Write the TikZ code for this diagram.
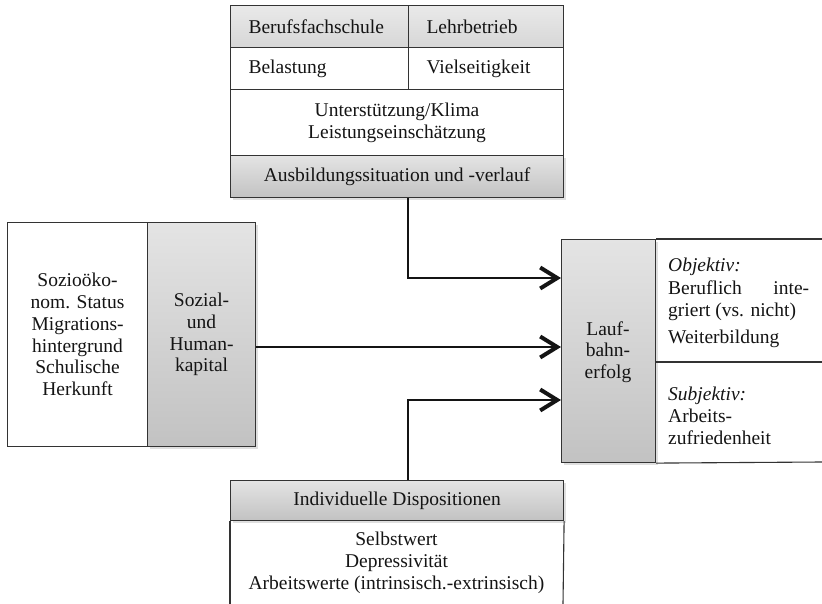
\documentclass[tikz,border=0pt]{standalone}
\usepackage{fontspec}
\setmainfont{Liberation Serif}
\usetikzlibrary{arrows.meta,shadows}
\definecolor{linec}{HTML}{333333}
\definecolor{txtc}{HTML}{141414}
\definecolor{gtop}{HTML}{E4E4E4}
\definecolor{gbot}{HTML}{C2C2C2}
\tikzset{
  cellbox/.style={draw=linec, line width=1.1pt, inner sep=0pt, anchor=north west, text=txtc},
  graybox/.style={cellbox, top color=gtop, bottom color=gbot},
  lightbox/.style={cellbox, top color=gtop!80!white, bottom color=gtop!60!gbot},
  shad/.style={drop shadow={opacity=0.25, shadow xshift=2pt, shadow yshift=-2.5pt}},
  conn/.style={draw=txtc, line width=2pt, -{Straight Barb[length=17pt,width=21pt,line width=4pt]}},
  plainline/.style={draw=linec, line width=1.1pt}
}
\begin{document}
\begin{tikzpicture}[x=1pt,y=-1pt, font=\fontsize{19.5}{21.7}\selectfont, text=txtc]
\useasboundingbox (0,0) rectangle (822,604);
% ---------- top box ----------
\node[lightbox, minimum width=178pt, minimum height=42pt, text width=142pt, inner xsep=18pt, align=left] (bfs) at (230,5) {Berufsfachschule};
\node[lightbox, minimum width=155pt, minimum height=42pt, text width=119pt, inner xsep=18pt, align=left] (lb) at (408,5) {Lehrbetrieb};
\node[cellbox, minimum width=178pt, minimum height=42pt, text width=142pt, inner xsep=18pt, align=left] (bel) at (230,47) {Belastung};
\node[cellbox, minimum width=155pt, minimum height=42pt, text width=119pt, inner xsep=18pt, align=left] (viel) at (408,47) {Vielseitigkeit};
\node[cellbox, minimum width=333pt, minimum height=66pt, align=center] (unt) at (230,89) {Unterstützung/Klima\\Leistungseinschätzung};
\node[graybox, shad, minimum width=333pt, minimum height=42pt] (aus) at (230,155) {Ausbildungssituation und -verlauf};
% ---------- left box ----------
\node[cellbox, minimum width=140pt, minimum height=224pt, align=center] (soz) at (7,222) {Sozioöko-\\nom. Status\\Migrations-\\hintergrund\\Schulische\\Herkunft};
\node[graybox, shad, minimum width=108pt, minimum height=224pt, align=center] (kap) at (147,222) {Sozial-\\und\\Human-\\kapital};
% ---------- right box ----------
\node[graybox, shad, minimum width=94pt, minimum height=223pt] (lbe) at (561,239) {};
\node[align=center, inner sep=0pt] (lbetxt) at (608,352) {Lauf-\\bahn-\\erfolg};
\coordinate (rtop) at (822,239);
\coordinate (rmid) at (822,362);
\coordinate (rbot) at (822,462);
\draw[plainline] (lbe.north east) -- (rtop);
\draw[plainline] (lbe.east |- rmid) -- (rmid);
\draw[plainline] (lbe.south east) -- (rbot);
\node[anchor=west, align=left, inner sep=0pt, font=\fontsize{19.5}{22.5}\selectfont] (obj) at (668,303) {\textit{Objektiv:}\\\makebox[141pt][l]{Beruflich\hfill inte-}\\griert (vs. nicht)\\[4pt]Weiterbildung};
\node[anchor=west, align=left, inner sep=0pt, font=\fontsize{19.5}{22}\selectfont] (subj) at (668,416) {\textit{Subjektiv:}\\Arbeits-\\zufriedenheit};
% ---------- bottom box ----------
\node[graybox, shad, minimum width=333pt, minimum height=40pt] (ind) at (230,480) {Individuelle Dispositionen};
\coordinate (bl) at (230,604);
\coordinate (br) at (563,604);
\draw[plainline] (ind.south west) -- (bl);
\draw[plainline] (ind.south east) -- (br);
\node[anchor=north, align=center, inner sep=0pt] (disp) at (396.5,532) {Selbstwert\\Depressivität\\Arbeitswerte (intrinsisch.-extrinsisch)};
% ---------- connectors ----------
\coordinate (c1) at (408,278);
\coordinate (c3) at (408,400);
\draw[conn] (aus.south -| c1) -- (c1) -- (lbe.west |- c1);
\draw[conn, line width=2.8pt] (kap.east |- 0,347) -- (lbe.west |- 0,347);
\draw[conn] (ind.north -| c3) -- (c3) -- (lbe.west |- c3);
\end{tikzpicture}
\end{document}
